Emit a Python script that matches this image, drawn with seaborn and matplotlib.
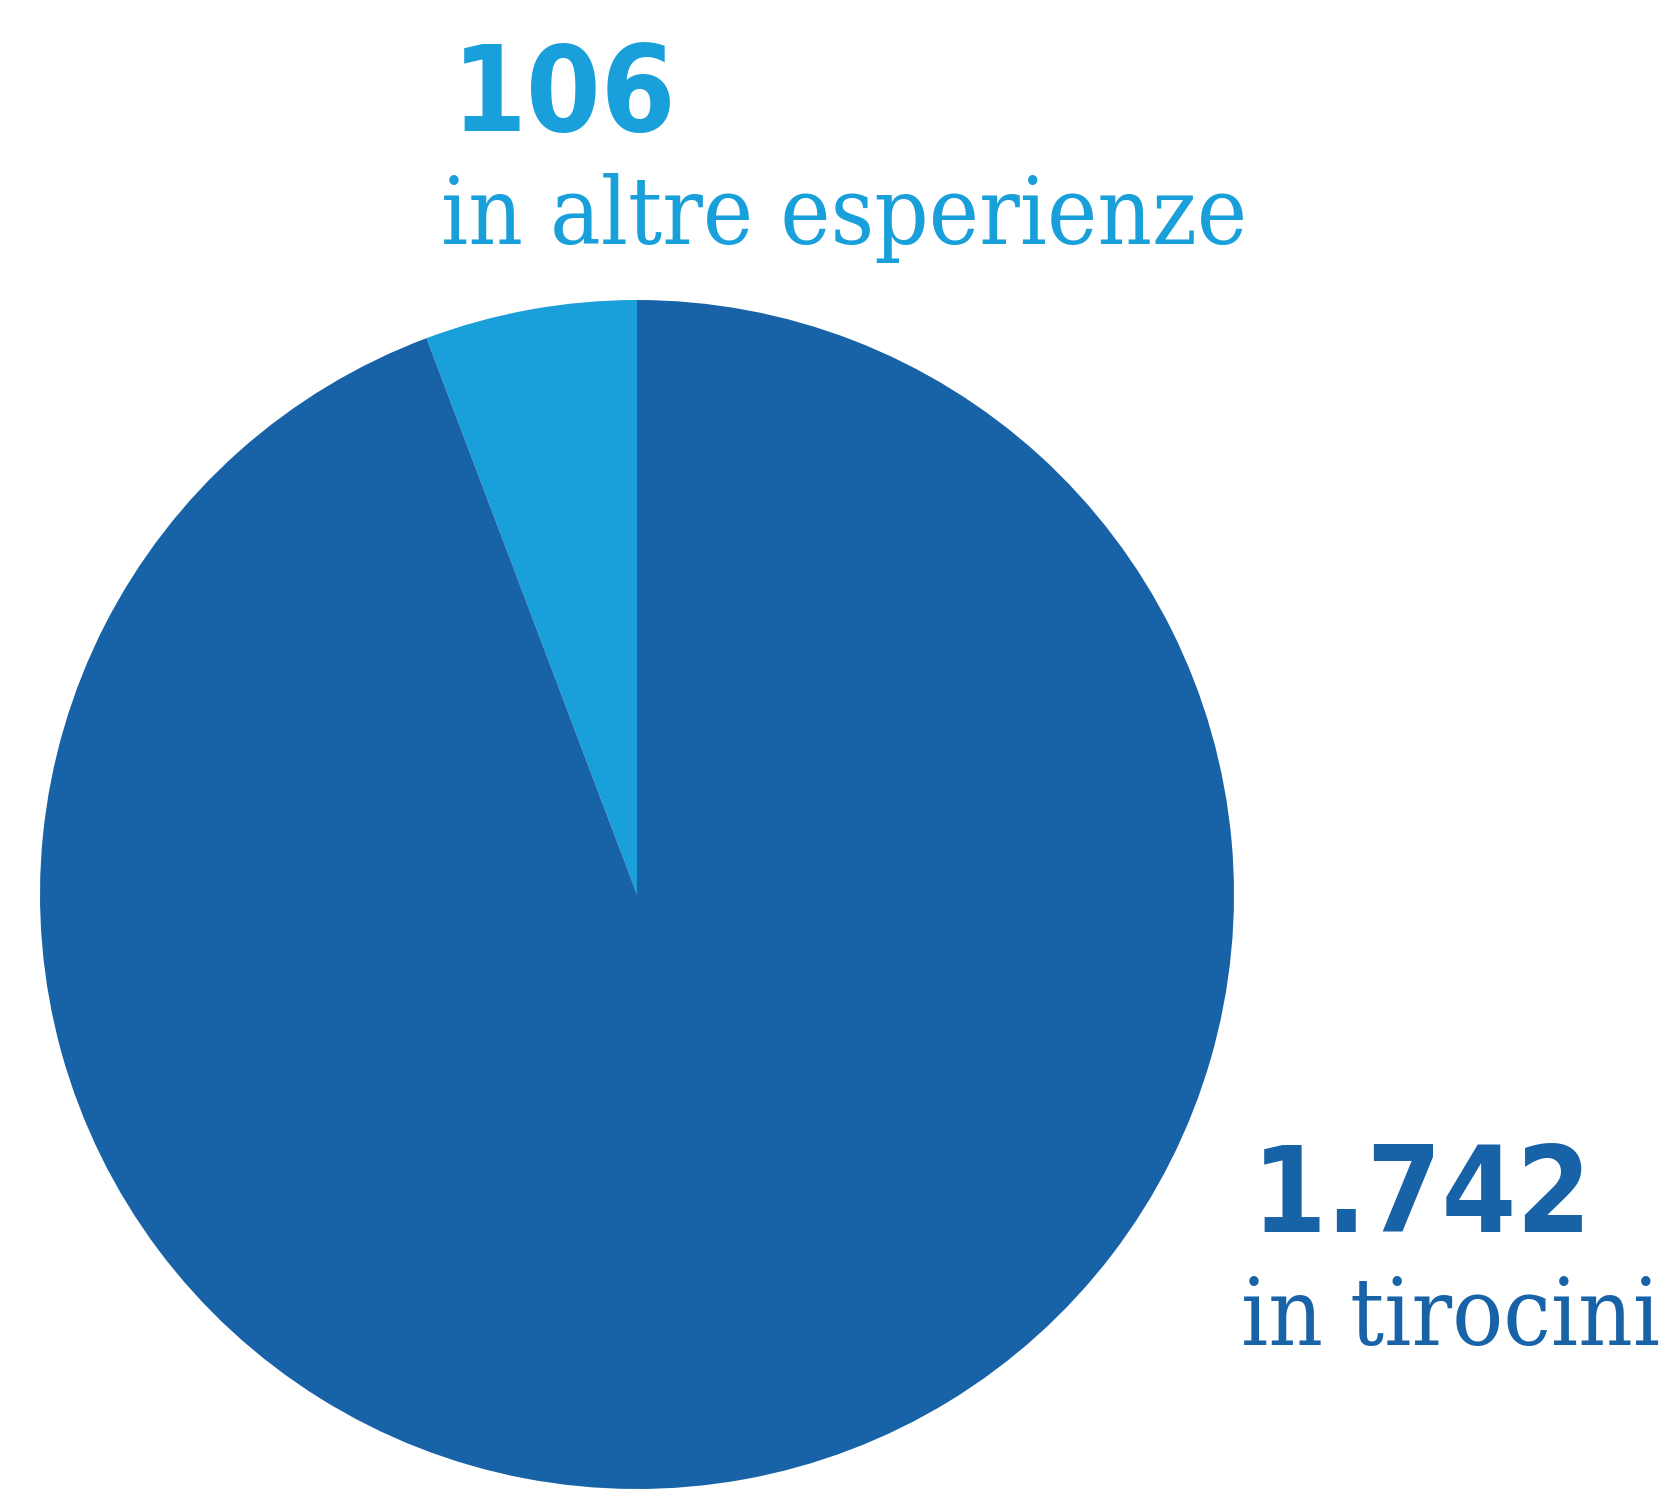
import matplotlib
matplotlib.use("Agg")
import matplotlib.pyplot as plt
import seaborn as sns

# dati
labels = ["in altre esperienze", "in tirocini"]
values = [106, 1742]
value_labels = ["106", "1.742"]
colors = ["#199fd9", "#1862a7"]

sns.set_theme(style="white")

W, H = 1680, 1493
fig = plt.figure(figsize=(W / 100, H / 100), dpi=100)
fig.patch.set_facecolor("white")

# area della torta (pixel)
px_left, px_right, px_top, px_bottom = 40, 1234, 300, 1489
ax = fig.add_axes([px_left / W, 1 - px_bottom / H,
                   (px_right - px_left) / W, (px_bottom - px_top) / H])
ax.pie(values, colors=sns.color_palette(colors), startangle=90,
       counterclock=True, radius=1.0,
       wedgeprops=dict(linewidth=0))
ax.set_xlim(-1, 1)
ax.set_ylim(-1, 1)
ax.set_aspect("auto")
ax.axis("off")

num_font = ["DejaVu Sans"]
txt_font = ["DejaVu Serif"]

def fx(x):
    return x / W

def fy(y):
    return 1 - y / H

# etichetta in alto
fig.text(fx(452), fy(131), value_labels[0], color=colors[0], fontsize=86,
         fontweight="bold", fontstretch="condensed", family=num_font,
         ha="left", va="baseline")
fig.text(fx(441), fy(244), labels[0], color=colors[0], fontsize=68,
         family=txt_font, fontstretch="condensed", fontweight="light",
         ha="left", va="baseline")

# etichetta in basso a destra
fig.text(fx(1252), fy(1232), value_labels[1], color=colors[1], fontsize=86,
         fontweight="bold", fontstretch="condensed", family=num_font,
         ha="left", va="baseline")
fig.text(fx(1241), fy(1345), labels[1], color=colors[1], fontsize=68,
         family=txt_font, fontstretch="condensed", fontweight="light",
         ha="left", va="baseline")

fig.savefig("out.png", dpi=100, facecolor="white")
